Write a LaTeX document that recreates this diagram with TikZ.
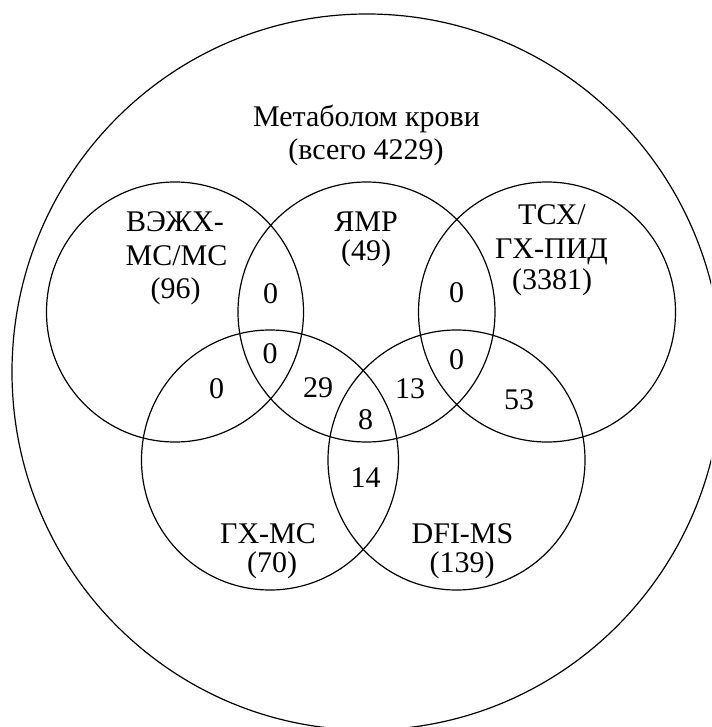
\documentclass[tikz,border=0pt]{standalone}
\usepackage{fontspec}
\setmainfont{Liberation Serif}
\begin{document}
\begin{tikzpicture}[x=1pt,y=-1pt,
  ring/.style={line width=1.2pt},
  lbl/.style={font=\fontsize{30}{33}\selectfont, inner sep=0pt, anchor=base},
  num/.style={font=\fontsize{30}{33}\selectfont, inner sep=0pt}]
\useasboundingbox (0,0) rectangle (711,727);
\clip (0,0) rectangle (711,727);
% outer set
\draw[ring] (367,372) ellipse [x radius=355, y radius=358];
% five sets
\draw[ring] (175,312) ellipse [x radius=128.5, y radius=130];
\draw[ring] (366.5,312) ellipse [x radius=128.5, y radius=130];
\draw[ring] (547,312) ellipse [x radius=128.5, y radius=130];
\draw[ring] (270,460) ellipse [x radius=128.5, y radius=130];
\draw[ring] (456.5,460) ellipse [x radius=128.5, y radius=130];
% title
\node[lbl] (t1) at (366.5,126.5) {Метаболом крови};
\node[lbl] (t2) at (366,160) {(всего 4229)};
% set labels
\node[lbl] (a1) at (175,231.5) {ВЭЖХ-};
\node[lbl] (a2) at (176.5,265) {МС/МС};
\node[lbl] (a3) at (175.5,298) {(96)};
\node[lbl] (b1) at (366,231) {ЯМР};
\node[lbl] (b2) at (366,260) {(49)};
\node[lbl] (c1) at (552,225) {ТСХ/};
\node[lbl] (c2) at (551.5,258) {ГХ-ПИД};
\node[lbl] (c3) at (552,289) {(3381)};
\node[lbl] (d1) at (268,543) {ГХ-МС};
\node[lbl] (d2) at (272,572) {(70)};
\node[lbl] (e1) at (462.5,543) {DFI-MS};
\node[lbl] (e2) at (462,572) {(139)};
% region counts
\node[num] (n1) at (270.5,294) {0};
\node[num] (n2) at (270,353.5) {0};
\node[num] (n3) at (216.5,389) {0};
\node[num] (n4) at (318,388) {29};
\node[num] (n5) at (456.5,292.5) {0};
\node[num] (n6) at (456.5,360) {0};
\node[num] (n7) at (410,388.5) {13};
\node[num] (n8) at (519,400) {53};
\node[num] (n9) at (365.5,419.5) {8};
\node[num] (n10) at (365.5,477.5) {14};
\end{tikzpicture}
\end{document}
